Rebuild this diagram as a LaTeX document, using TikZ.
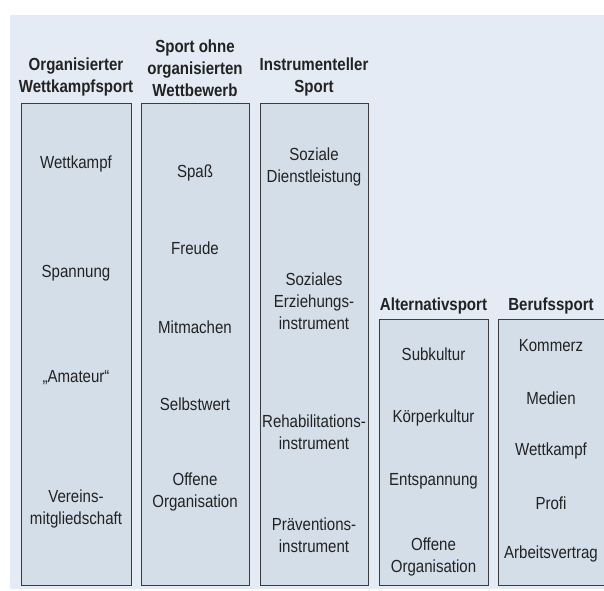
\documentclass[tikz,border=0pt]{standalone}
\usepackage{fontspec}
\setmainfont{Liberation Sans}[FakeStretch=0.86]
\definecolor{bgpanel}{HTML}{E4EBF4}
\definecolor{boxfill}{HTML}{D4DEE9}
\definecolor{boxline}{HTML}{3C3C3C}
\definecolor{txt}{HTML}{222222}
\begin{document}
\begin{tikzpicture}[x=1pt,y=-1pt,
  colbox/.style={draw=boxline,fill=boxfill,line width=0.9pt},
  hdr/.style={font=\fontsize{17.5}{22}\selectfont\bfseries,text=txt,align=center,inner sep=0pt},
  item/.style={font=\fontsize{17.5}{22}\selectfont,text=txt,align=center,inner sep=0pt}]
\useasboundingbox (0,0) rectangle (604,590);
\fill[bgpanel] (10,15) rectangle (606,589);
% boxes
\draw[colbox] (21,103) rectangle (131,585);
\draw[colbox] (141,103) rectangle (249,585);
\draw[colbox] (260,103) rectangle (368,585);
\draw[colbox] (379,319) rectangle (488,585);
\draw[colbox] (498,319) rectangle (610,585);
% column 1
\node[hdr] (h1) at (76,77) {Organisierter\\Wettkampfsport};
\node[item] (a1) at (76,164) {Wettkampf};
\node[item] (a2) at (76,273) {Spannung};
\node[item] (a3) at (76,378) {„Amateur“};
\node[item] (a4) at (76,509) {Vereins-\\mitgliedschaft};
% column 2
\node[hdr] (h2) at (195,68) {Sport ohne\\organisierten\\Wettbewerb};
\node[item] (b1) at (195,173) {Spaß};
\node[item] (b2) at (195,248) {Freude};
\node[item] (b3) at (195,327) {Mitmachen};
\node[item] (b4) at (195,404) {Selbstwert};
\node[item] (b5) at (195,492) {Offene\\Organisation};
% column 3
\node[hdr] (h3) at (314,77) {Instrumenteller\\Sport};
\node[item] (c1) at (314,167) {Soziale\\Dienstleistung};
\node[item] (c2) at (314,301) {Soziales\\Erziehungs-\\instrument};
\node[item] (c3) at (314,432) {Rehabilitations-\\instrument};
\node[item] (c4) at (314,535) {Präventions-\\instrument};
% column 4
\node[hdr] (h4) at (433.5,306) {Alternativsport};
\node[item] (d1) at (433.5,354) {Subkultur};
\node[item] (d2) at (433.5,418) {Körperkultur};
\node[item] (d3) at (433.5,481) {Entspannung};
\node[item] (d4) at (433.5,557) {Offene\\Organisation};
% column 5
\node[hdr] (h5) at (551,306) {Berufssport};
\node[item] (e1) at (551,346) {Kommerz};
\node[item] (e2) at (551,398) {Medien};
\node[item] (e3) at (551,451) {Wettkampf};
\node[item] (e4) at (551,503) {Profi};
\node[item] (e5) at (551,554) {Arbeitsvertrag};
\end{tikzpicture}
\end{document}
